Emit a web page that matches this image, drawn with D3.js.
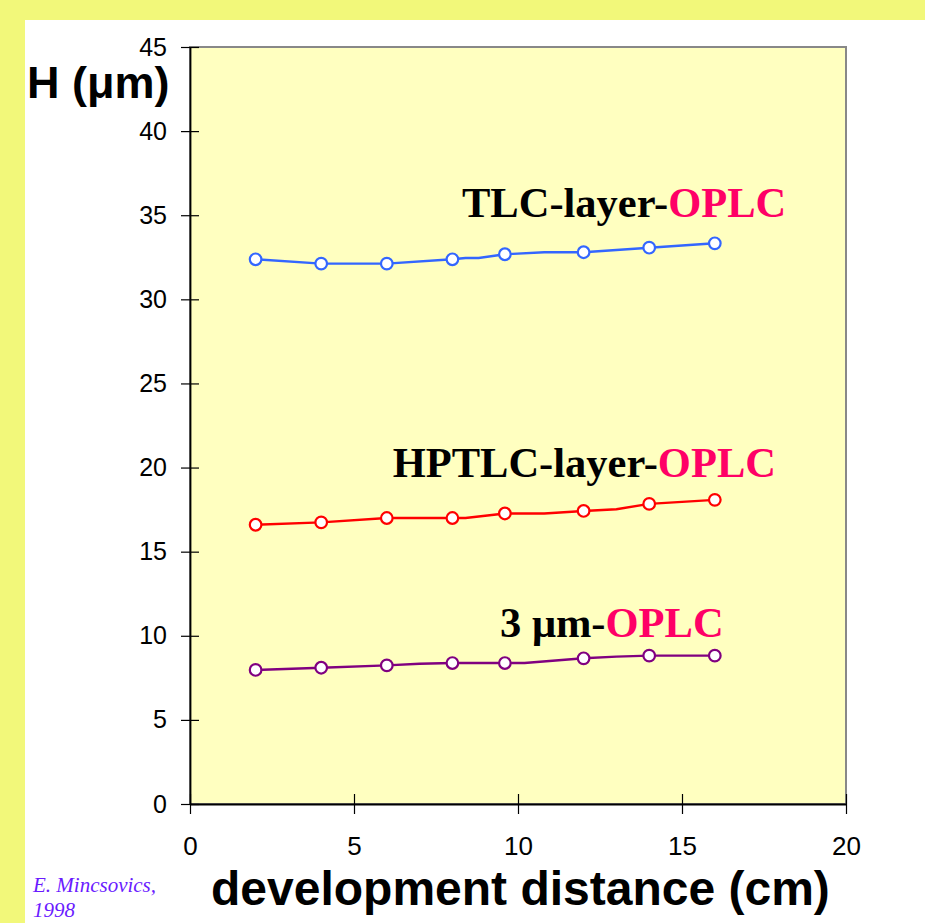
<!DOCTYPE html>
<html>
<head>
<meta charset="utf-8">
<script src="https://cdn.jsdelivr.net/npm/d3@7"></script>
<style>
  body { margin: 0; background: #f2f87a; }
  svg { display: block; }
</style>
</head>
<body>
<div id="wrapper"></div>
<script>
// marker positions (cm) and plate height H (um)
const distance = [2, 4, 6, 8, 9.6, 12, 14, 16];
const tlcH   = [32.38, 32.12, 32.12, 32.38, 32.68, 32.8, 33.07, 33.33];
const hptlcH = [16.6, 16.74, 17.0, 17.0, 17.27, 17.42, 17.84, 18.08];
const umH    = [7.97, 8.1, 8.24, 8.38, 8.38, 8.66, 8.82, 8.82];

// the drawn lines have a few extra bends between the markers
const tlcLineX   = [2, 4, 6, 8, 8.4, 8.8, 9.6, 10.8, 12, 14, 16];
const tlcLineY   = [32.38, 32.12, 32.12, 32.38, 32.46, 32.46, 32.68, 32.8, 32.8, 33.07, 33.33];
const hptlcLineX = [2, 4, 6, 8, 8.4, 9.6, 10.8, 12, 13, 14, 16];
const hptlcLineY = [16.6, 16.74, 17.0, 17.0, 17.0, 17.27, 17.27, 17.42, 17.52, 17.84, 18.08];
const umLineX    = [2, 4, 6, 7, 8, 9.6, 10.2, 12, 13, 14, 16];
const umLineY    = [7.97, 8.1, 8.24, 8.34, 8.38, 8.38, 8.38, 8.66, 8.76, 8.82, 8.82];

const xTicks = [0, 5, 10, 15, 20];
const yTicks = [0, 5, 10, 15, 20, 25, 30, 35, 40, 45];

const series = [
  { name: "TLC-layer-", x: tlcLineX, y: tlcLineY, marks: tlcH, color: "#3366ff", label: [462, 216.7] },
  { name: "HPTLC-layer-", x: hptlcLineX, y: hptlcLineY, marks: hptlcH, color: "#ff0000", label: [392.7, 476.7] },
  { name: "3 \u03bcm-", x: umLineX, y: umLineY, marks: umH, color: "#800080", label: [500, 636.7] }
];

const width = 925;
const height = 923;
let dimensions = {
  width: width,
  height: height,
  margin: { top: 47, right: 79, bottom: 119, left: 190 }
};
dimensions.boundedWidth = dimensions.width - dimensions.margin.left - dimensions.margin.right;
dimensions.boundedHeight = dimensions.height - dimensions.margin.top - dimensions.margin.bottom;

const wrapper = d3.select("#wrapper")
  .append("svg")
    .attr("width", dimensions.width)
    .attr("height", dimensions.height);

// slide background: yellow border with white panel
wrapper.append("rect")
    .attr("width", width).attr("height", height)
    .attr("fill", "#f2f87a");
wrapper.append("rect")
    .attr("x", 25).attr("y", 20)
    .attr("width", width - 25).attr("height", height - 20)
    .attr("fill", "#ffffff");

const bounds = wrapper.append("g")
    .attr("transform", `translate(${dimensions.margin.left},${dimensions.margin.top})`);

const xScaler = d3.scaleLinear()
    .domain([0, 20])
    .range([0, dimensions.boundedWidth]);

const yScaler = d3.scaleLinear()
    .domain([0, 45])
    .range([dimensions.boundedHeight, 0]);

// plot area
bounds.append("rect")
    .attr("width", dimensions.boundedWidth)
    .attr("height", dimensions.boundedHeight)
    .attr("fill", "#ffffc0")
    .attr("stroke", "#888888")
    .attr("stroke-width", 2);

// y axis
const yAxisGenerator = d3.axisLeft(yScaler)
    .tickValues(yTicks)
    .tickSizeInner(9)
    .tickSizeOuter(0);

const yAxis = bounds.append("g")
    .call(yAxisGenerator);
yAxis.select(".domain").attr("stroke", "#000").attr("stroke-width", 1.8);
yAxis.selectAll(".tick line").attr("x1", 9).attr("x2", -9).attr("stroke", "#000").attr("stroke-width", 1.2);
yAxis.selectAll(".tick text")
    .attr("x", -23)
    .attr("font-family", "'Liberation Sans', Arial, sans-serif")
    .attr("font-size", 25)
    .attr("fill", "#000");

// x axis
const xAxisGenerator = d3.axisBottom(xScaler)
    .tickValues(xTicks)
    .tickSizeInner(10)
    .tickSizeOuter(0);

const xAxis = bounds.append("g")
    .call(xAxisGenerator)
    .attr("transform", `translate(0,${dimensions.boundedHeight})`);
xAxis.select(".domain").attr("stroke", "#000").attr("stroke-width", 1.8);
xAxis.selectAll(".tick line").attr("y1", -10).attr("y2", 10).attr("stroke", "#000").attr("stroke-width", 1.2);
xAxis.selectAll(".tick text")
    .attr("y", 33)
    .attr("font-family", "'Liberation Sans', Arial, sans-serif")
    .attr("font-size", 26)
    .attr("fill", "#000");

// lines and markers
const lineGenerator = d3.line()
    .x(d => xScaler(d[0]))
    .y(d => yScaler(d[1]));

series.forEach(s => {
  const pts = s.x.map((x, i) => [x, s.y[i]]);
  bounds.append("path")
      .attr("d", lineGenerator(pts))
      .attr("fill", "none")
      .attr("stroke", s.color)
      .attr("stroke-width", 2.4);

  bounds.selectAll(null)
      .data(distance.map((x, i) => [x, s.marks[i]]))
      .enter().append("circle")
      .attr("cx", d => xScaler(d[0]))
      .attr("cy", d => yScaler(d[1]))
      .attr("r", 5.8)
      .attr("fill", "#ffffff")
      .attr("stroke", s.color)
      .attr("stroke-width", 2.2);
});

// series labels
series.forEach(s => {
  const t = wrapper.append("text")
      .attr("x", s.label[0])
      .attr("y", s.label[1])
      .attr("font-family", "'Liberation Serif', 'Times New Roman', serif")
      .attr("font-weight", "bold")
      .attr("font-size", 42.5);
  t.append("tspan").attr("fill", "#000").text(s.name);
  t.append("tspan").attr("fill", "#ff0066").text("OPLC");
});

// axis titles
wrapper.append("text")
    .attr("x", 27)
    .attr("y", 98)
    .attr("font-family", "'Liberation Sans', Arial, sans-serif")
    .attr("font-weight", "bold")
    .attr("font-size", 45)
    .text("H (\u03bcm)");

wrapper.append("text")
    .attr("x", 211)
    .attr("y", 905)
    .attr("font-family", "'Liberation Sans', Arial, sans-serif")
    .attr("font-weight", "bold")
    .attr("font-size", 48)
    .text("development distance (cm)");

// credit
const credit = wrapper.append("text")
    .attr("font-family", "'Liberation Serif', 'Times New Roman', serif")
    .attr("font-style", "italic")
    .attr("font-size", 21)
    .attr("fill", "#6a1bff");
credit.append("tspan").attr("x", 33).attr("y", 891.7).text("E. Mincsovics,");
credit.append("tspan").attr("x", 33).attr("y", 916.7).text("1998");
</script>
</body>
</html>
